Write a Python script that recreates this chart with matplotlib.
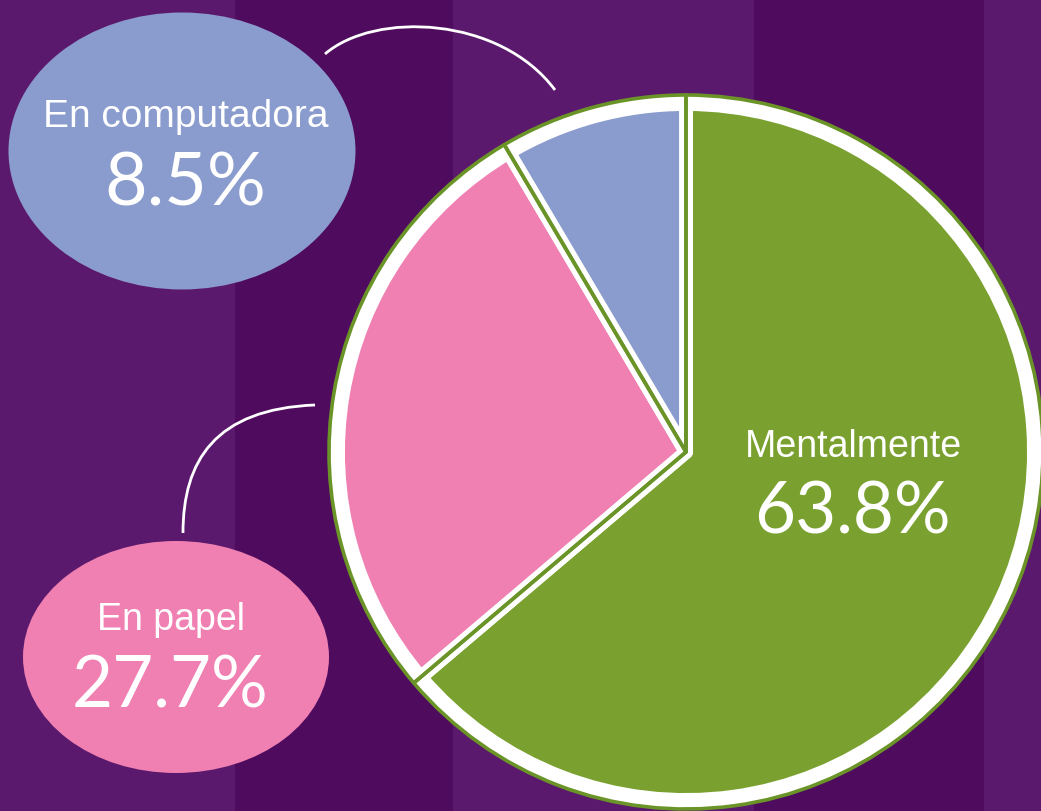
import matplotlib
matplotlib.use("Agg")
import matplotlib.pyplot as plt
from matplotlib.patches import Ellipse, PathPatch
from matplotlib.path import Path

# ---- data ----
labels = ["Mentalmente", "En papel", "En computadora"]
values = [63.8, 27.7, 8.5]
value_labels = ["63.8%", "27.7%", "8.5%"]
colors = ["#7AA12F", "#EF80B1", "#8A9CCD"]

W, H = 1041, 811
fig = plt.figure(figsize=(W / 100, H / 100), dpi=100)
ax = fig.add_axes([0, 0, 1, 1])

# background stripes
light, dark = "#5B196D", "#4F0B5E"
stripes = [(0, 235, light), (235, 453, dark), (453, 754, light), (754, 984, dark), (984, W, light)]
for x0, x1, c in stripes:
    ax.axvspan(x0, x1, color=c, zorder=0, lw=0)

# pie
center = (686, H - 452)
R = 357
green_line = "#6B9428"
ax.pie(values, startangle=90, counterclock=False, center=center, radius=R,
       colors=["white"] * 3, wedgeprops=dict(linewidth=0), frame=True)
ax.pie(values, startangle=90, counterclock=False, center=center, radius=R - 9,
       colors=colors, wedgeprops=dict(edgecolor="white", linewidth=10, joinstyle="round"), frame=True)
ax.pie(values, startangle=90, counterclock=False, center=center, radius=R,
       wedgeprops=dict(fill=False, edgecolor=green_line, linewidth=2.6, joinstyle="round"), frame=True)
ax.set_xlim(0, W)
ax.set_ylim(0, H)
ax.set_aspect("equal")
ax.axis("off")

num_font = dict(family=["Lato", "DejaVu Sans"], fontweight="normal", fontsize=51, color="white")
lab_font = dict(family=["Liberation Sans", "DejaVu Sans"], fontsize=27, color="white")

# Mentalmente label on pie
ax.text(853, H - 457, labels[0], ha="center", va="baseline", **lab_font, zorder=5)
ax.text(852, H - 533, value_labels[0], ha="center", va="baseline", **num_font, zorder=5)

# En computadora bubble
ax.add_patch(Ellipse((182, H - 151), 347, 277, color=colors[2], lw=0, zorder=3))
ax.text(186, H - 127, labels[2], ha="center", va="baseline", **{**lab_font, "fontsize": 28}, zorder=5)
ax.text(185, H - 205, value_labels[2], ha="center", va="baseline", **{**num_font, "fontsize": 53}, zorder=5)

# En papel bubble
ax.add_patch(Ellipse((176, H - 657), 306, 232, color=colors[1], lw=0, zorder=3))
ax.text(171, H - 630, labels[1], ha="center", va="baseline", **lab_font, zorder=5)
ax.text(170, H - 708, value_labels[1], ha="center", va="baseline", **num_font, zorder=5)

# connector curves
def curve(pts):
    p = Path([(x, H - y) for x, y in pts], [Path.MOVETO, Path.CURVE4, Path.CURVE4, Path.CURVE4])
    ax.add_patch(PathPatch(p, fill=False, edgecolor="white", lw=2.0, zorder=4, capstyle="butt"))

curve([(325, 54), (375, 11), (500, 16), (555, 90)])
curve([(183, 533), (183, 461), (215, 409), (315, 405)])

fig.savefig("out.png", dpi=100, facecolor=light)
